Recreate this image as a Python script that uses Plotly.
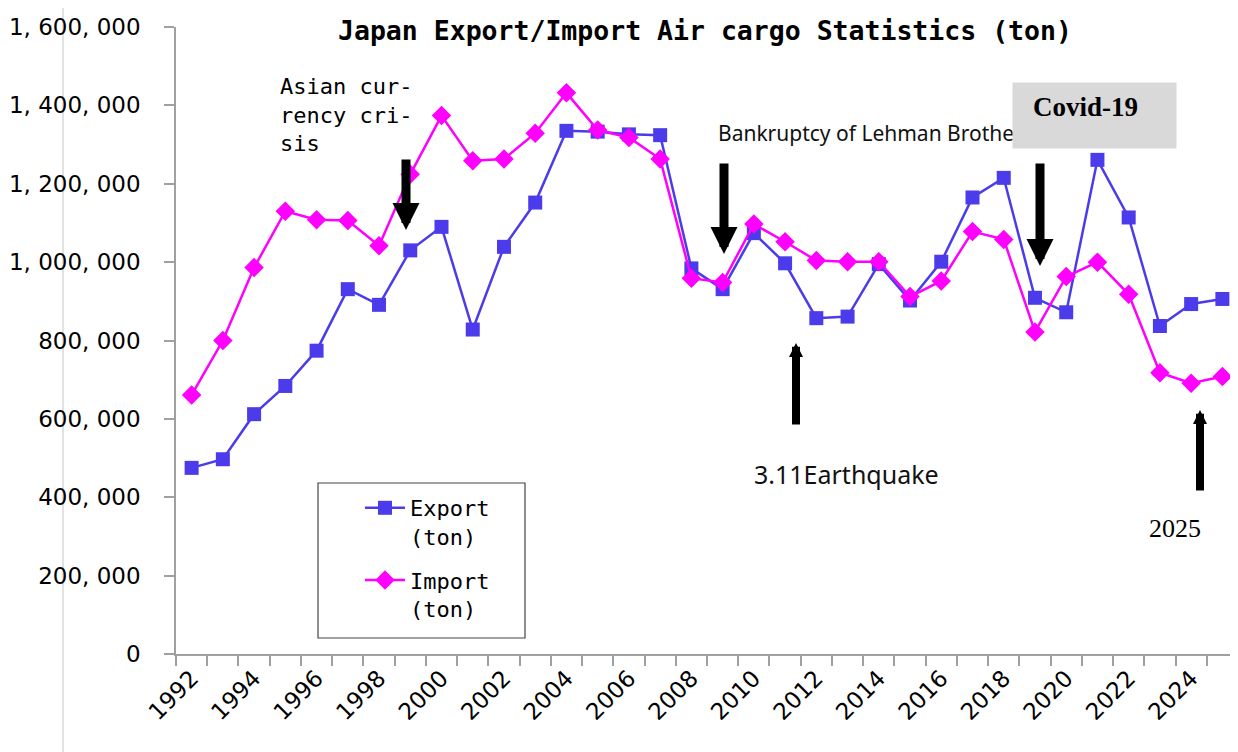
import plotly.graph_objects as go

years = list(range(1992, 2026))
export_ton = [475000, 497000, 612000, 684000, 774000, 931000, 891000, 1030000, 1090000, 828000,
              1039000, 1152000, 1335000, 1333000, 1326000, 1324000, 984000, 931000, 1074000, 997000,
              857000, 861000, 995000, 902000, 1001000, 1165000, 1215000, 909000, 872000, 1261000,
              1114000, 837000, 893000, 906000]
import_ton = [661000, 800000, 986000, 1130000, 1108000, 1106000, 1042000, 1224000, 1374000, 1259000,
              1263000, 1329000, 1432000, 1337000, 1318000, 1263000, 959000, 948000, 1097000, 1052000,
              1004000, 1001000, 1001000, 912000, 952000, 1078000, 1058000, 822000, 963000, 1000000,
              918000, 718000, 691000, 708000]
x_tick_years = list(range(1992, 2025, 2))
y_tick_vals = [0, 200000, 400000, 600000, 800000, 1000000, 1200000, 1400000, 1600000]
y_tick_text = ["0", "200, 000", "400, 000", "600, 000", "800, 000", "1, 000, 000",
               "1, 200, 000", "1, 400, 000", "1, 600, 000"]

EXPORT_COLOR = "#4B3BEB"
IMPORT_COLOR = "#FF00FF"

# layout geometry (pixels); the page body adds an 8px offset
OFF = 8
W, H = 1238 - OFF, 752 - OFF
ML, MR, MT, MB = 176 - OFF, 0, 27 - OFF, 98
PW = W - ML - MR
PH = H - MT - MB
XMIN, XMAX = 1991.5, 2025.5
YMAX = 1600000


def pxp(px):
    return (px - OFF - ML) / PW


def pyp(py):
    return (H - MB - (py - OFF)) / PH


def dx(px):
    return XMIN + pxp(px) * (XMAX - XMIN)


def dy(py):
    return pyp(py) * YMAX


fig = go.Figure()
fig.add_trace(go.Scatter(
    x=years, y=export_ton, name="Export<br>(ton)", mode="lines+markers",
    line=dict(color=EXPORT_COLOR, width=2.5),
    marker=dict(symbol="square", size=14, color=EXPORT_COLOR),
    legendgroup="e",
))
fig.add_trace(go.Scatter(
    x=years, y=import_ton, name="Import<br>(ton)", mode="lines+markers",
    line=dict(color=IMPORT_COLOR, width=2.5),
    marker=dict(symbol="diamond", size=15, color=IMPORT_COLOR),
    legendgroup="i",
))

mono = "DejaVu Sans Mono"
annotations = [
    # title
    dict(text="<b>Japan Export/Import Air cargo Statistics (ton)</b>", xref="paper", yref="paper",
         x=pxp(705), y=pyp(31), xanchor="center", yanchor="middle", showarrow=False,
         font=dict(family=mono, size=26.5, color="black")),
    # Asian currency crisis
    dict(text="Asian cur-<br>rency cri-<br>sis", xref="paper", yref="paper",
         x=pxp(278), y=pyp(72), xanchor="left", yanchor="top", align="left", showarrow=False,
         font=dict(family=mono, size=22, color="black")),
    dict(text="", x=dx(406), y=dy(230), ax=dx(406), ay=dy(158), xref="x", yref="y",
         axref="x", ayref="y", showarrow=True, arrowhead=2, arrowwidth=9, arrowsize=0.6,
         arrowcolor="black"),
    # Lehman
    dict(text="Bankruptcy of Lehman Brothers", xref="paper", yref="paper",
         x=pxp(716), y=pyp(133), xanchor="left", yanchor="middle", showarrow=False,
         font=dict(family="Noto Sans", size=21, color="#111111")),
    dict(text="", x=dx(724), y=dy(254), ax=dx(724), ay=dy(162), xref="x", yref="y",
         axref="x", ayref="y", showarrow=True, arrowhead=2, arrowwidth=9, arrowsize=0.6,
         arrowcolor="black"),
    # Covid box (covers the end of the Lehman text)
    dict(text="", xref="paper", yref="paper",
         x=pxp(1012), y=pyp(82), xanchor="left", yanchor="top", showarrow=False,
         width=163, height=65, bgcolor="#D9D9D9", borderpad=0,
         font=dict(family="Liberation Serif", size=10, color="black")),
    dict(text="<b>Covid-19</b>", xref="paper", yref="paper",
         x=pxp(1031), y=pyp(107), xanchor="left", yanchor="middle", showarrow=False,
         font=dict(family="Liberation Serif", size=27, color="black")),
    dict(text="", x=dx(1040), y=dy(266), ax=dx(1040), ay=dy(162), xref="x", yref="y",
         axref="x", ayref="y", showarrow=True, arrowhead=2, arrowwidth=9, arrowsize=0.6,
         arrowcolor="black"),
    # 3.11 Earthquake
    dict(text="", x=dx(796), y=dy(343), ax=dx(796), ay=dy(426), xref="x", yref="y",
         axref="x", ayref="y", showarrow=True, arrowhead=2, arrowwidth=8, arrowsize=0.35,
         arrowcolor="black"),
    dict(text="3.11Earthquake", xref="paper", yref="paper",
         x=pxp(752), y=pyp(474), xanchor="left", yanchor="middle", showarrow=False,
         font=dict(family="Noto Sans", size=25, color="#111111")),
    # 2025
    dict(text="", x=dx(1200), y=dy(410), ax=dx(1200), ay=dy(492), xref="x", yref="y",
         axref="x", ayref="y", showarrow=True, arrowhead=2, arrowwidth=8, arrowsize=0.35,
         arrowcolor="black"),
    dict(text="2025", xref="paper", yref="paper",
         x=pxp(1147), y=pyp(528), xanchor="left", yanchor="middle", showarrow=False,
         font=dict(family="Liberation Serif", size=26, color="black")),
]

shapes = [
    # outer faint frame
    dict(type="rect", xref="paper", yref="paper", x0=pxp(63), y0=pyp(7), x1=pxp(1300),
         y1=pyp(800), line=dict(color="#D9D9D9", width=1.5), layer="below"),
    # legend box
    dict(type="rect", xref="paper", yref="paper", x0=pxp(318), y0=pyp(483), x1=pxp(525),
         y1=pyp(638), line=dict(color="#444444", width=1.2), fillcolor="white", layer="below"),
]

fig.update_layout(
    width=W, height=H,
    margin=dict(l=ML, r=MR, t=MT, b=MB, pad=0, autoexpand=False),
    paper_bgcolor="white", plot_bgcolor="rgba(0,0,0,0)",
    showlegend=True,
    legend=dict(x=pxp(360), y=pyp(487), xanchor="left", yanchor="top",
                bgcolor="rgba(0,0,0,0)", borderwidth=0, valign="top",
                tracegroupgap=12, itemwidth=40,
                font=dict(family=mono, size=22, color="black")),
    annotations=annotations,
    shapes=shapes,
)

fig.update_xaxes(
    range=[XMIN, XMAX], showgrid=False, zeroline=False, automargin=False,
    showline=True, linecolor="#A0A0A0", linewidth=1.5,
    tickmode="array", tickvals=x_tick_years, ticktext=[str(v) for v in x_tick_years],
    ticks="", tickangle=-45,
    tickfont=dict(family="DejaVu Sans", size=23, color="black"),
    minor=dict(tick0=0.5, dtick=1, ticks="outside", ticklen=10, tickcolor="#A0A0A0",
               tickwidth=1.5, showgrid=False),
)
fig.update_yaxes(
    range=[0, YMAX], showgrid=False, zeroline=False, automargin=False,
    showline=True, linecolor="#A0A0A0", linewidth=1.5,
    tickmode="array", tickvals=y_tick_vals, ticktext=y_tick_text,
    ticks="outside", ticklen=10, tickcolor="#A0A0A0", tickwidth=1.5,
    ticklabelstandoff=19,
    tickfont=dict(family="DejaVu Sans", size=23, color="black"),
)

fig.write_html("out.html")
